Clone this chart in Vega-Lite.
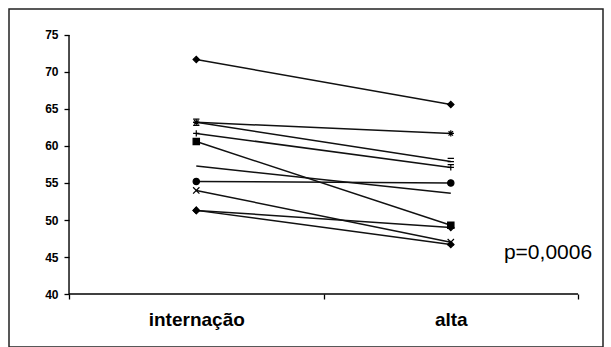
{
  "$schema": "https://vega.github.io/schema/vega-lite/v6.json",
  "width": 594,
  "height": 338,
  "autosize": {"type": "none"},
  "padding": {"left": 9, "top": 9, "right": 8, "bottom": 0},
  "background": "white",
  "config": {"view": {"stroke": "#222", "strokeWidth": 1.5}, "font": "Liberation Sans"},
  "data": {"values": [
    {"s": 1, "visit": 1, "time": "internação", "value": 71.7}, {"s": 1, "visit": 2, "time": "alta", "value": 65.6},
    {"s": 2, "visit": 1, "time": "internação", "value": 63.2}, {"s": 2, "visit": 2, "time": "alta", "value": 61.7},
    {"s": 3, "visit": 1, "time": "internação", "value": 63.2}, {"s": 3, "visit": 2, "time": "alta", "value": 57.9},
    {"s": 4, "visit": 1, "time": "internação", "value": 61.7}, {"s": 4, "visit": 2, "time": "alta", "value": 57.1},
    {"s": 5, "visit": 1, "time": "internação", "value": 60.6}, {"s": 5, "visit": 2, "time": "alta", "value": 49.3},
    {"s": 6, "visit": 1, "time": "internação", "value": 57.3}, {"s": 6, "visit": 2, "time": "alta", "value": 53.6},
    {"s": 7, "visit": 1, "time": "internação", "value": 55.2}, {"s": 7, "visit": 2, "time": "alta", "value": 55.0},
    {"s": 8, "visit": 1, "time": "internação", "value": 54.0}, {"s": 8, "visit": 2, "time": "alta", "value": 47.0},
    {"s": 9, "visit": 1, "time": "internação", "value": 51.3}, {"s": 9, "visit": 2, "time": "alta", "value": 49.0},
    {"s": 10, "visit": 1, "time": "internação", "value": 51.3}, {"s": 10, "visit": 2, "time": "alta", "value": 46.7}
  ]},
  "resolve": {"axis": {"x": "independent", "y": "independent"}},
  "layer": [
    {
      "mark": {"type": "line", "color": "#111", "strokeWidth": 1.5},
      "encoding": {
        "x": {"field": "visit", "type": "quantitative", "scale": {"domain": [0.2642, 2.598], "nice": false, "zero": false},
              "axis": {"values": [0.5, 1.5, 2.5], "labels": false, "domain": false, "grid": false, "tickSize": 5, "tickColor": "black", "tickWidth": 1.3, "offset": -53, "title": null, "orient": "bottom"}},
        "y": {"field": "value", "type": "quantitative", "scale": {"domain": [32.84, 78.51], "nice": false, "zero": false},
              "axis": {"values": [40, 45, 50, 55, 60, 65, 70, 75], "domain": false, "grid": false, "tickSize": 5, "tickColor": "black", "tickWidth": 1.3, "offset": -60, "labelPadding": 6, "labelFont": "Liberation Sans", "labelFontSize": 12, "labelFontWeight": "bold", "labelColor": "black", "title": null, "orient": "left"}},
        "detail": {"field": "s", "type": "nominal"}
      }
    },
    {
      "transform": [{"filter": "datum.s != 6"}],
      "mark": {"type": "point", "filled": true, "color": "black", "stroke": "black", "strokeWidth": 1.2, "opacity": 1},
      "encoding": {
        "x": {"field": "visit", "type": "quantitative", "scale": {"domain": [0.2642, 2.598], "nice": false, "zero": false},
              "axis": {"values": [1, 2], "labelExpr": "datum.value == 1 ? 'internação' : 'alta'", "ticks": false, "domain": false, "grid": false, "offset": -53, "labelPadding": 16, "labelFont": "Liberation Sans", "labelFontSize": 19, "labelFontWeight": "bold", "labelColor": "black", "title": null, "orient": "bottom"}},
        "y": {"field": "value", "type": "quantitative", "scale": {"domain": [32.84, 78.51], "nice": false, "zero": false}, "axis": null},
        "shape": {"field": "s", "type": "nominal", "legend": null,
                  "scale": {"domain": [1, 2, 3, 4, 5, 6, 7, 8, 9, 10],
                            "range": ["diamond", "M-1,0L1,0M0,-1L0,1M-0.7,-0.7L0.7,0.7M-0.7,0.7L0.7,-0.7", "M-1,-1L1,-1M-1,0L1,0M-1,1L1,1", "M-1,0L1,0M0,-1L0,1", "square", "circle", "circle", "M-1,-1L1,1M-1,1L1,-1", "diamond", "diamond"]}},
        "size": {"value": 40}
      }
    },
    {
      "data": {"values": [{}]},
      "mark": {"type": "rule", "color": "black", "strokeWidth": 1.4},
      "encoding": {
        "x": {"datum": 0.5, "type": "quantitative", "scale": {"domain": [0.2642, 2.598], "nice": false, "zero": false}, "axis": null},
        "y": {"datum": 40, "type": "quantitative", "scale": {"domain": [32.84, 78.51], "nice": false, "zero": false}, "axis": null},
        "y2": {"datum": 75}
      }
    },
    {
      "data": {"values": [{}]},
      "mark": {"type": "rule", "color": "black", "strokeWidth": 1.4},
      "encoding": {
        "x": {"datum": 0.5, "type": "quantitative", "scale": {"domain": [0.2642, 2.598], "nice": false, "zero": false}, "axis": null},
        "x2": {"datum": 2.5},
        "y": {"datum": 40, "type": "quantitative", "scale": {"domain": [32.84, 78.51], "nice": false, "zero": false}, "axis": null}
      }
    },
    {
      "data": {"values": [{}]},
      "mark": {"type": "text", "text": "p=0,0006", "font": "Liberation Sans", "fontSize": 21, "color": "black", "align": "center", "baseline": "middle"},
      "encoding": {
        "x": {"datum": 2.382, "type": "quantitative", "scale": {"domain": [0.2642, 2.598], "nice": false, "zero": false}, "axis": null},
        "y": {"datum": 45.54, "type": "quantitative", "scale": {"domain": [32.84, 78.51], "nice": false, "zero": false}, "axis": null}
      }
    }
  ]
}
